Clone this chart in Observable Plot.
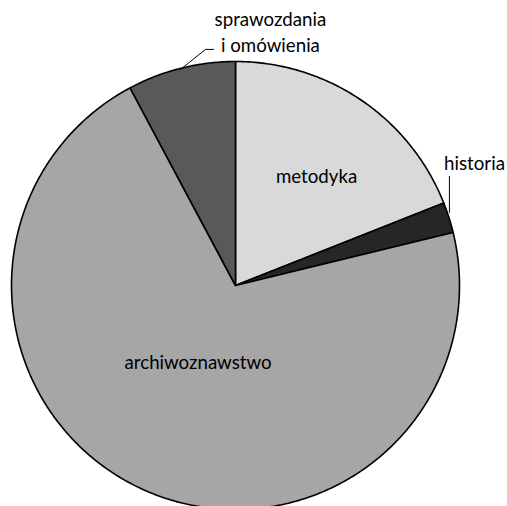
<!DOCTYPE html>
<html>
<head>
<meta charset="utf-8">
<script src="https://cdn.jsdelivr.net/npm/d3@7"></script>
<script src="https://cdn.jsdelivr.net/npm/@observablehq/plot@0.6"></script>
<style>
  html, body { margin: 0; padding: 0; background: #fff; overflow: hidden; }
</style>
</head>
<body>
<div id="chart"></div>
<script>
// Data (shares in %, clockwise from 12 o'clock)
const categories = ["metodyka", "historia", "archiwoznawstwo", "sprawozdania\ni omówienia"];
const values = [19.0, 2.2, 71.0, 7.8];
const colors = ["#d9d9d9", "#262626", "#a6a6a6", "#595959"];

// Layout (label anchors in unit-circle coordinates)
const labelPos = [[0.362, 0.496], [1.067, 0.554], [-0.167, -0.336], [0.156, 1.138]];
const leaders = [
  [{x: 0.955, y: 0.487}, {x: 0.955, y: 0.326}],
  [{x: -0.098, y: 1.054}, {x: -0.134, y: 1.054}, {x: -0.246, y: 0.964}]
];

const total = d3.sum(values);
const rows = [];
let acc = 0;
values.forEach((v, i) => {
  const a0 = acc / total * 2 * Math.PI;
  acc += v;
  const a1 = acc / total * 2 * Math.PI;
  const n = Math.max(2, Math.ceil((a1 - a0) / 0.01));
  rows.push({cat: categories[i], x: 0, y: 0});
  for (let k = 0; k <= n; k++) {
    const a = a0 + (a1 - a0) * k / n;
    rows.push({cat: categories[i], x: Math.sin(a), y: Math.cos(a)});
  }
  rows.push({cat: categories[i], x: 0, y: 0});
});

const labels = categories.map((c, i) => ({text: c, x: labelPos[i][0], y: labelPos[i][1]}));
const leaderRows = leaders.flatMap((pts, j) => pts.map(p => ({...p, id: j})));

const chart = Plot.plot({
  width: 507,
  height: 506,
  margin: 0,
  style: {fontFamily: "Lato, 'Open Sans', sans-serif", background: "#fff", overflow: "visible"},
  x: {domain: [-1, 1], range: [11, 459], axis: null},
  y: {domain: [-1, 1], range: [509, 61], axis: null},
  color: {domain: categories, range: colors},
  marks: [
    Plot.line(rows, {x: "x", y: "y", z: "cat", fill: "cat", stroke: "#000", strokeWidth: 1.6, strokeLinejoin: "round"}),
    Plot.line(leaderRows, {x: "x", y: "y", z: "id", stroke: "#000", strokeWidth: 1}),
    Plot.text(labels, {x: "x", y: "y", text: "text", fontSize: 18.7, fill: "#000", lineHeight: 1.39, textAnchor: "middle"})
  ]
});
document.getElementById("chart").appendChild(chart);
</script>
</body>
</html>
